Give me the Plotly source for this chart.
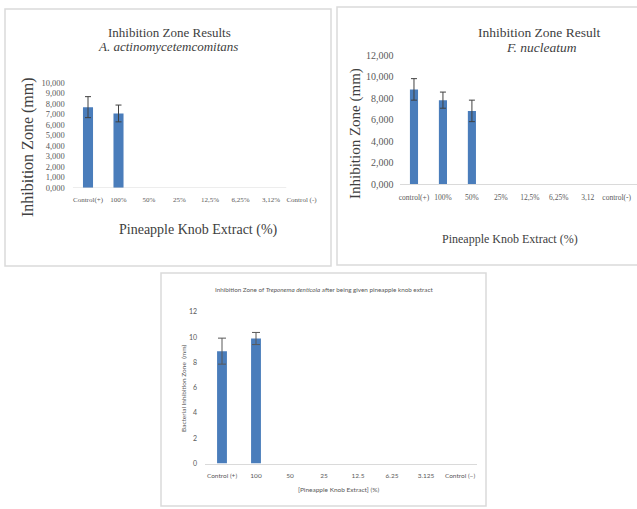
import plotly.graph_objects as go

# ---- data -------------------------------------------------------------
aa_categories = ["Control(+)", "100%", "50%", "25%", "12,5%", "6,25%", "3,12%", "Control (-)"]
aa_values = [7.7, 7.1, 0, 0, 0, 0, 0, 0]
aa_errors = [1.0, 0.8, 0, 0, 0, 0, 0, 0]
aa_ticks = [0, 1, 2, 3, 4, 5, 6, 7, 8, 9, 10]
aa_ticktext = ["0,000", "1,000", "2,000", "3,000", "4,000", "5,000",
               "6,000", "7,000", "8,000", "9,000", "10,000"]

fn_categories = ["control(+)", "100%", "50%", "25%", "12,5%", "6,25%", "3,12", "control(-)"]
fn_values = [8.8, 7.8, 6.8, 0, 0, 0, 0, 0]
fn_errors = [1.0, 0.75, 1.0, 0, 0, 0, 0, 0]
fn_ticks = [0, 2, 4, 6, 8, 10, 12]
fn_ticktext = ["0,000", "2,000", "4,000", "6,000", "8,000", "10,000", "12,000"]

td_categories = ["Control (+)", "100", "50", "25", "12.5", "6.25", "3.125", "Control (\u2212)"]
td_values = [8.9, 9.9, 0, 0, 0, 0, 0, 0]
td_errors = [1.03, 0.48, 0, 0, 0, 0, 0, 0]
td_ticks = [0, 2, 4, 6, 8, 10, 12]

# ---- styling ----------------------------------------------------------
W, H = 637, 509
BAR = "#4a7dbb"
SERIF = "Liberation Serif"
SANS = "Lato"
TXT = "#404040"
TICK = "#595959"
FRAME = "#dadada"


def px(x):
    return x / W


def py(y):
    return 1 - y / H


def nonzero(cats, vals, errs):
    """Keep only the groups that produced a measurable zone."""
    rows = [(c, v, e) for c, v, e in zip(cats, vals, errs) if v > 0]
    return [r[0] for r in rows], [r[1] for r in rows], [r[2] for r in rows]


fig = go.Figure()

for cats, vals, errs, bw, ecol, ew, ax, ay in [
    (aa_categories, aa_values, aa_errors, 0.33, "#404040", 3, "x", "y"),
    (fn_categories, fn_values, fn_errors, 0.28, "#404040", 3, "x2", "y2"),
    (td_categories, td_values, td_errors, 0.29, "#595959", 4, "x3", "y3"),
]:
    xc, yv, ev = nonzero(cats, vals, errs)
    fig.add_trace(go.Bar(
        x=xc, y=yv, width=bw, marker=dict(color=BAR, line=dict(width=0)),
        error_y=dict(type="data", array=ev, visible=True,
                     color=ecol, thickness=1, width=ew),
        xaxis=ax, yaxis=ay, showlegend=False))

common_x = dict(type="category", showgrid=False, zeroline=False, ticks="",
                fixedrange=True)
common_y = dict(showgrid=False, zeroline=False, ticks="", showline=False,
                fixedrange=True)

fig.update_layout(
    template="none",
    width=W, height=H,
    margin=dict(l=0, r=0, t=0, b=0, pad=0),
    paper_bgcolor="white", plot_bgcolor="rgba(0,0,0,0)",
    xaxis=dict(common_x, domain=[px(72.75), px(316.75)], range=[-0.5, 7.5],
               anchor="y", showline=False, categoryorder="array",
               categoryarray=aa_categories, ticklabelstandoff=6,
               tickfont=dict(family=SERIF, size=7, color=TICK)),
    yaxis=dict(common_y, domain=[py(188), py(83)], range=[0, 10], anchor="x",
               tickvals=aa_ticks, ticktext=aa_ticktext, ticklabelstandoff=7,
               tickfont=dict(family=SERIF, size=8.5, color=TICK)),
    xaxis2=dict(common_x, domain=[px(399.5), 1.0], range=[-0.5, 7.7],
                anchor="y2", showline=True, linecolor=FRAME, linewidth=1,
                categoryorder="array", categoryarray=fn_categories,
                ticklabelstandoff=6,
                tickfont=dict(family=SERIF, size=7.5, color=TICK)),
    yaxis2=dict(common_y, domain=[py(184), py(55)], range=[0, 12], anchor="x2",
                tickvals=fn_ticks, ticktext=fn_ticktext, ticklabelstandoff=5,
                tickfont=dict(family=SERIF, size=10, color=TICK)),
    xaxis3=dict(common_x, domain=[px(205), px(477)], range=[-0.5, 7.5],
                anchor="y3", showline=True, linecolor=FRAME, linewidth=1,
                categoryorder="array", categoryarray=td_categories,
                ticklabelstandoff=6,
                tickfont=dict(family=SANS, size=6.5, color=TICK)),
    yaxis3=dict(common_y, domain=[py(463.5), py(312)], range=[0, 12],
                anchor="x3", tickvals=td_ticks, ticklabelstandoff=7,
                tickfont=dict(family=SANS, size=7, color=TICK)),
)

# baseline of the first chart stops under the 3,12% group
fig.add_shape(type="line", xref="x", yref="y", x0=-0.5, x1=6.5, y0=0, y1=0,
              line=dict(color=FRAME, width=1))

# panel frames
for x0, y0, x1, y1 in [(5, 9, 331, 266), (337, 7, 645, 265), (161, 273, 486, 506)]:
    fig.add_shape(type="rect", xref="paper", yref="paper",
                  x0=px(x0), x1=px(x1), y0=py(y1), y1=py(y0),
                  line=dict(color=FRAME, width=1.5), fillcolor="rgba(0,0,0,0)",
                  layer="below")


def label(text, x, y, size, family, color=TXT, angle=0):
    fig.add_annotation(text=text, xref="paper", yref="paper", x=px(x), y=py(y),
                       xanchor="center", yanchor="middle", showarrow=False,
                       textangle=angle, font=dict(family=family, size=size, color=color))


# chart 1
label("Inhibition Zone Results", 169, 32, 13, SERIF)
label("<i>A. actinomycetemcomitans</i>", 168, 47, 13, SERIF)
label("Inhibition Zone (mm)", 28, 147, 16, SERIF, angle=-90)
label("Pineapple Knob Extract (%)", 198, 230, 14, SERIF)

# chart 2
label("Inhibition Zone Result", 539, 32, 13.5, SERIF)
label("<i>F. nucleatum</i>", 541, 48, 13.5, SERIF)
label("Inhibition Zone (mm)", 355, 134, 15, SERIF, angle=-90)
label("Pineapple Knob Extract (%)", 510, 239, 12, SERIF)

# chart 3
label("Inhibition Zone of <i>Treponema denticola</i> after being given pineapple knob extract",
      324, 289, 6.3, SANS, color=TICK)
label("Bacterial Inhibition Zone  (mm)", 183, 389, 6.5, SANS, color=TICK, angle=-90)
label("[Pineapple Knob Extract] (%)", 338, 489, 6.5, SANS, color=TICK)

fig.write_html("out.html")
